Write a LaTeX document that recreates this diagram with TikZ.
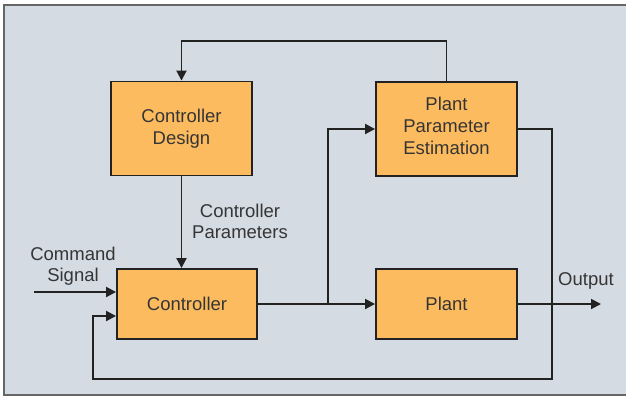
\documentclass[tikz,border=0pt]{standalone}
\usepackage{fontspec}
\setmainfont{Liberation Sans}
\usetikzlibrary{arrows.meta}
\definecolor{panel}{HTML}{D5DBE3}
\definecolor{boxfill}{HTML}{FDBB5F}
\definecolor{ink}{HTML}{222222}
\definecolor{txt}{HTML}{353535}
\begin{document}
\begin{tikzpicture}[x=1pt,y=-1pt,
  block/.style={draw=ink,line width=1.9pt,fill=boxfill,minimum width=141pt,
    text=txt,align=center,font=\fontsize{18.5}{22}\selectfont},
  lbl/.style={text=txt,align=center,font=\fontsize{18.5}{21}\selectfont},
  wire/.style={draw=ink,line width=1.9pt},
  arr/.style={wire,-{Triangle[length=10pt,width=10pt]}}]
\useasboundingbox (0,0) rectangle (626,397);
\fill[white] (0,0) rectangle (626,397);
\fill[panel] (4,5) rectangle (626,395);
\draw[gray!80!black,line width=1.3pt] (626,5) -- (4,5) -- (4,395) -- (626,395);
%\draw (0,0) grid[step=50] (626,397);
\node[block,minimum height=94pt] (design) at (181.5,128.5) {Controller\\Design\\[-18pt]\mbox{}};
\node[block,minimum height=94pt] (ppe) at (446.5,129) {Plant\\Parameter\\Estimation\\[-16pt]\mbox{}};
\node[block,minimum width=140pt,minimum height=70pt] (ctrl) at (187,304) {Controller};
\node[block,minimum height=70pt] (plant) at (446.5,304) {Plant};
\node[lbl] (params) at (240,221) {Controller\\Parameters};
\node[lbl] (cmd) at (73,266) {Command\\Signal};
\node[lbl,anchor=south] (out) at (586,293) {Output};
\coordinate (loop) at (0,41);
\coordinate (cmdin) at (34,292);
\coordinate (branch) at (328,304);
\coordinate (outend) at (601,304);
\coordinate (fbright) at (552,379);
\coordinate (fbleft) at (93,316);
\draw[arr] (ppe.north) -- (ppe.north |- loop) -| (design.north);
\draw[arr] (design.south) -- (design.south |- ctrl.north);
\draw[arr] (cmdin) -- (cmdin -| ctrl.west);
\draw[arr] (ctrl.east) -- (plant.west);
\draw[arr] (branch) |- (ppe.west);
\draw[arr] (plant.east) -- (outend);
\draw[arr] (ppe.east) -| (fbright) -| (fbleft) -- (fbleft -| ctrl.west);
\end{tikzpicture}
\end{document}
